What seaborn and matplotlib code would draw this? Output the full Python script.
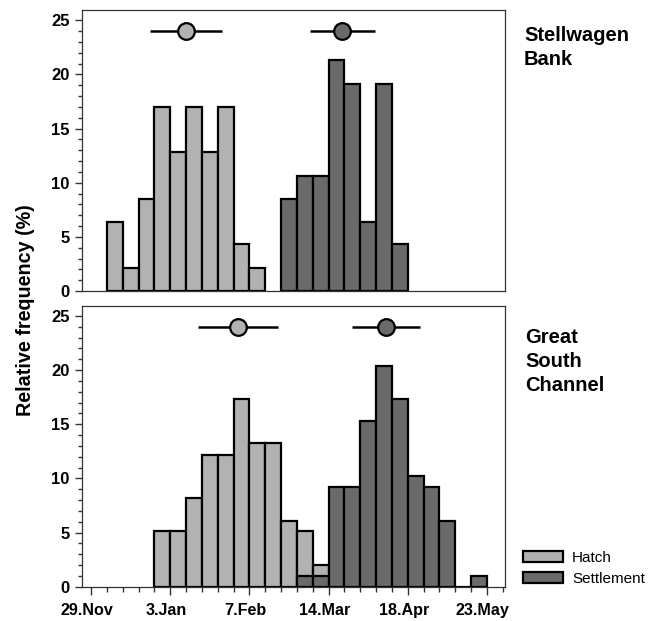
import numpy as np
import pandas as pd
import matplotlib
matplotlib.use("Agg")
import matplotlib.pyplot as plt
import matplotlib.transforms as mtransforms
from matplotlib.patches import Patch
import seaborn as sns

# ---------------- data (days after 29 Nov; weekly bins) ----------------
tick_days = [0, 35, 70, 105, 140, 175]
tick_labels = ["29.Nov", "3.Jan", "7.Feb", "14.Mar", "18.Apr", "23.May"]

# Stellwagen Bank
sb_hatch_start = [7, 14, 21, 28, 35, 42, 49, 56, 63, 70]
sb_hatch_freq = [6.4, 2.1, 8.5, 17.0, 12.8, 17.0, 12.8, 17.0, 4.3, 2.1]
sb_settle_start = [84, 91, 98, 105, 112, 119, 126, 133]
sb_settle_freq = [8.5, 10.6, 10.6, 21.3, 19.1, 6.4, 19.1, 4.3]
sb_hatch_mean, sb_hatch_sd = 42, 16
sb_settle_mean, sb_settle_sd = 111, 14.4

# Great South Channel
gs_hatch_start = [28, 35, 42, 49, 56, 63, 70, 77, 84, 91, 98]
gs_hatch_freq = [5.1, 5.1, 8.2, 12.2, 12.2, 17.3, 13.3, 13.3, 6.1, 5.1, 2.0]
gs_settle_start = [91, 98, 105, 112, 119, 126, 133, 140, 147, 154, 161, 168]
gs_settle_freq = [1.0, 1.0, 9.2, 9.2, 15.3, 20.4, 17.3, 10.2, 9.2, 6.1, 0.0, 1.0]
gs_hatch_mean, gs_hatch_sd = 65, 17.6
gs_settle_mean, gs_settle_sd = 130.3, 15

series_labels = ["Hatch", "Settlement"]
panel_names = ["Stellwagen\nBank", "Great\nSouth\nChannel"]

# ---------------- style ----------------
sns.set_theme(style="white")
plt.rcParams["font.family"] = ["Liberation Sans", "DejaVu Sans"]
plt.rcParams["text.color"] = "black"
plt.rcParams["axes.labelcolor"] = "black"
plt.rcParams["xtick.color"] = "black"
plt.rcParams["ytick.color"] = "black"

LIGHT = "#b2b2b2"
DARK = "#6a6a6a"
BIN = 7

fig = plt.figure(figsize=(6.54, 6.21), dpi=100)
W, H = 654, 621
def ax_rect(l, r, t, b):
    return [l / W, (H - b) / H, (r - l) / W, (b - t) / H]

ax1 = fig.add_axes(ax_rect(82, 505, 10, 291))
ax2 = fig.add_axes(ax_rect(82, 505, 305.7, 586.7))

panels = [
    (ax1, sb_hatch_start, sb_hatch_freq, sb_settle_start, sb_settle_freq,
     (sb_hatch_mean, sb_hatch_sd), (sb_settle_mean, sb_settle_sd)),
    (ax2, gs_hatch_start, gs_hatch_freq, gs_settle_start, gs_settle_freq,
     (gs_hatch_mean, gs_hatch_sd), (gs_settle_mean, gs_settle_sd)),
]

for ax, hs, hf, ss, sf, hm, sm in panels:
    for starts, freqs, col in [(hs, hf, LIGHT), (ss, sf, DARK)]:
        df = pd.DataFrame({"day": np.array(starts, float) + BIN / 2,
                           "freq": np.array(freqs, float)})
        sns.histplot(data=df, x="day", weights="freq", binwidth=BIN,
                     binrange=(starts[0], starts[-1] + BIN), ax=ax,
                     color=col, edgecolor="black", linewidth=1.6, alpha=1,
                     stat="count", zorder=2)
    for (m, s), col in [(hm, LIGHT), (sm, DARK)]:
        ax.errorbar([m], [24], xerr=[s], fmt="o", ms=12, mfc=col, mec="black",
                    mew=1.6, ecolor="black", elinewidth=1.8, capsize=0, zorder=3)
    ax.set_xlim(-4, 183)
    ax.set_ylim(0, 25.95)
    ax.set_ylabel("")
    ax.set_xlabel("")
    ax.set_yticks([0, 5, 10, 15, 20, 25])
    ax.set_yticks(np.arange(0, 26, 1), minor=True)
    ax.tick_params(axis="y", which="major", left=True, length=5, width=1,
                   color="#333333", labelsize=12, pad=4)
    ax.tick_params(axis="y", which="minor", left=True, length=3, width=1,
                   color="#333333")
    for lab in ax.get_yticklabels():
        lab.set_fontweight("bold")
    for sp in ax.spines.values():
        sp.set_color("#333333")
        sp.set_linewidth(0.9)

ax1.set_xticks([])
ax1.tick_params(axis="x", bottom=False, labelbottom=False)

ax2.set_xticks(tick_days)
ax2.set_xticklabels(tick_labels, fontweight="bold", fontsize=11.6)
ax2.set_xticks(np.arange(0, 183, 7), minor=True)
ax2.tick_params(axis="x", which="major", bottom=True, length=5.5, width=1,
                color="#333333", pad=6)
ax2.tick_params(axis="x", which="minor", bottom=True, length=3.5, width=1,
                color="#333333")
offset = mtransforms.ScaledTranslation(-4 / 100, 0, fig.dpi_scale_trans)
for lab in ax2.get_xticklabels():
    lab.set_transform(lab.get_transform() + offset)

# panel names (baseline of last line)
fig.text(524 / W, 1 - 65 / H, panel_names[0], fontsize=14.5, fontweight="bold",
         va="baseline", ha="left", linespacing=1.32)
fig.text(525 / W, 1 - 391 / H, panel_names[1], fontsize=14.5, fontweight="bold",
         va="baseline", ha="left", linespacing=1.32)

# y label
fig.text(25.5 / W, 1 - 310 / H, "Relative frequency (%)", rotation=90,
         fontsize=14.2, fontweight="bold", ha="center", va="center")

# legend
handles = [Patch(facecolor=LIGHT, edgecolor="black", linewidth=1.6),
           Patch(facecolor=DARK, edgecolor="black", linewidth=1.6)]
fig.legend(handles, series_labels, loc="upper left",
           bbox_to_anchor=(523 / W, 1 - 551 / H), frameon=False, fontsize=11,
           handlelength=2.6, handleheight=0.75, handletextpad=0.6,
           labelspacing=0.45, borderpad=0, borderaxespad=0)

fig.savefig("out.png", dpi=100)
